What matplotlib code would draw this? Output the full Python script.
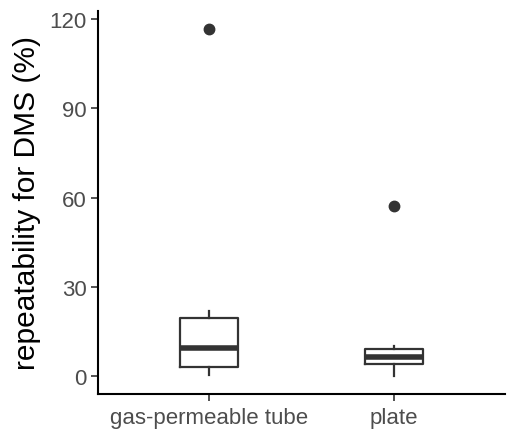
import matplotlib
matplotlib.use("Agg")
import matplotlib.pyplot as plt

plt.rcParams['font.family'] = ['Liberation Sans', 'DejaVu Sans']

categories = ["gas-permeable tube", "plate"]
whislo = [0.3, 0.0]
q1 = [3.0, 4.0]
med = [9.4, 6.4]
q3 = [19.4, 9.0]
whishi = [21.8, 10.0]
fliers = [[116.8], [57.0]]
yticks = [0, 30, 60, 90, 120]

fig = plt.figure(figsize=(5.08, 4.31), dpi=100)
ax = fig.add_axes([98/508, 1-394.5/431, (505-98)/508, (394.5-11.5)/431])

stats = []
for i, c in enumerate(categories):
    stats.append(dict(label=c, whislo=whislo[i], q1=q1[i], med=med[i], q3=q3[i],
                      whishi=whishi[i], fliers=fliers[i]))

col = '#333333'
ax.bxp(stats, positions=[1, 2], widths=0.31, showcaps=False,
       boxprops=dict(color=col, linewidth=1.6),
       whiskerprops=dict(color=col, linewidth=1.6),
       medianprops=dict(color=col, linewidth=4.0, solid_capstyle='butt'),
       flierprops=dict(marker='o', markerfacecolor=col, markeredgecolor=col, markersize=7.5))

ax.set_xlim(0.4, 2.6)
ax.set_ylim(-5.85, 122.85)
ax.set_yticks(yticks)
ax.set_xticks([1, 2])
ax.set_xticklabels(categories)
for s in ['top', 'right']:
    ax.spines[s].set_visible(False)
for s in ['left', 'bottom']:
    ax.spines[s].set_linewidth(1.5)
    ax.spines[s].set_color('black')
ax.tick_params(axis='both', colors='#333333', labelcolor='#4D4D4D', labelsize=16, length=5, width=1.2)
ax.tick_params(axis='x', pad=5)
ax.tick_params(axis='y', pad=3)
ax.set_ylabel("repeatability for DMS (%)", fontsize=21.5, color='black', labelpad=6)

fig.savefig("out.png", dpi=100)
